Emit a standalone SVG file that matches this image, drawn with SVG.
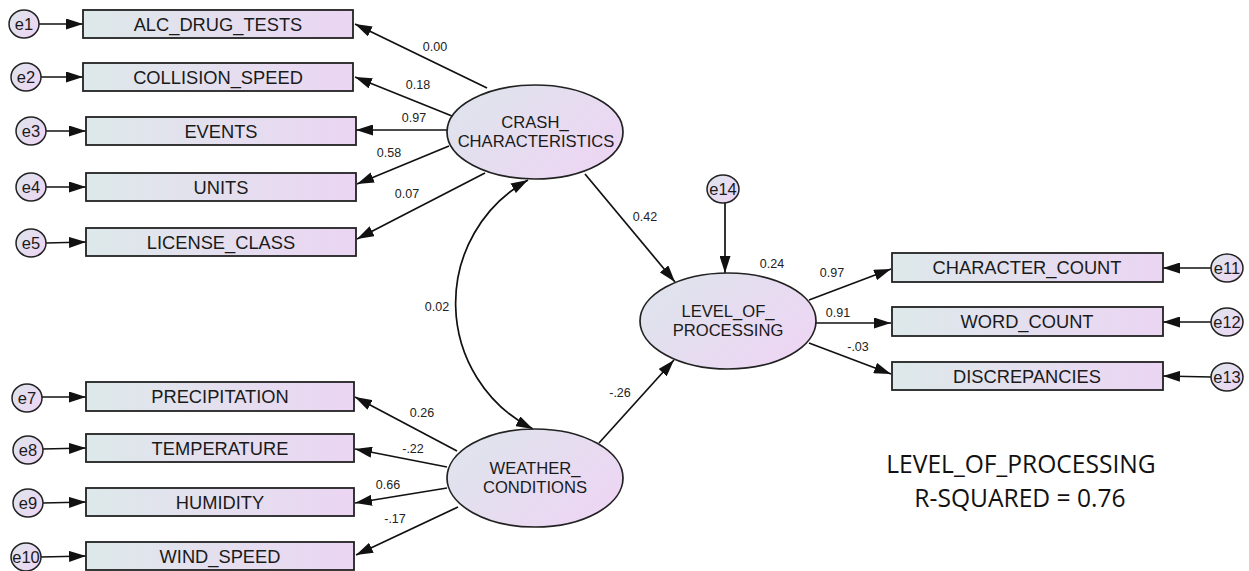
<svg xmlns="http://www.w3.org/2000/svg" width="1249" height="571" viewBox="0 0 1249 571">
<defs>
<linearGradient id="gBox" x1="0" y1="0" x2="1" y2="0">
<stop offset="0" stop-color="#dde9ea"/>
<stop offset="1" stop-color="#ebd5f3"/>
</linearGradient>
<linearGradient id="gEll" x1="0" y1="0.2" x2="1" y2="0.8">
<stop offset="0" stop-color="#dee4ec"/>
<stop offset="1" stop-color="#eed5f4"/>
</linearGradient>
<marker id="arr" viewBox="0 0 17 11" refX="17" refY="5.5" markerWidth="17" markerHeight="11" markerUnits="userSpaceOnUse" orient="auto-start-reverse">
<path d="M0,0 L17,5.5 L0,11 z" fill="#111"/>
</marker>
<style>
.box{fill:url(#gBox);stroke:#222;stroke-width:1.8}
.ell{fill:url(#gEll);stroke:#222;stroke-width:1.7}
.err{fill:url(#gEll);stroke:#222;stroke-width:1.5}
.lbl{font-family:"Liberation Sans",Arial,sans-serif;font-size:18.3px;fill:#1a1a1a;text-anchor:middle}
.elbl{font-family:"Liberation Sans",Arial,sans-serif;font-size:16.6px;fill:#1a1a1a;text-anchor:middle}
.etxt{font-family:"Liberation Sans",Arial,sans-serif;font-size:16.5px;fill:#1a1a1a;text-anchor:middle}
.coef{font-family:"Liberation Sans",Arial,sans-serif;font-size:12.5px;fill:#222;text-anchor:middle}
.big{font-family:"Open Sans","Noto Sans",sans-serif;font-size:24.6px;fill:#111;text-anchor:middle}
.con{fill:none;stroke:#111;stroke-width:1.7;marker-end:url(#arr)}
</style>
</defs>
<rect width="1249" height="571" fill="#ffffff"/>

<g id="connectors">
<line class="con" x1="39" y1="24" x2="83" y2="24"/>
<line class="con" x1="41" y1="77" x2="83" y2="77"/>
<line class="con" x1="46" y1="131" x2="86" y2="131"/>
<line class="con" x1="46" y1="187" x2="86" y2="187"/>
<line class="con" x1="46" y1="243" x2="86" y2="242"/>
<line class="con" x1="42" y1="397" x2="86" y2="397"/>
<line class="con" x1="43" y1="449" x2="86" y2="448"/>
<line class="con" x1="43" y1="503" x2="86" y2="502"/>
<line class="con" x1="41" y1="557" x2="86" y2="556"/>
<line class="con" x1="1211" y1="268" x2="1163" y2="268"/>
<line class="con" x1="1211" y1="322" x2="1163" y2="322"/>
<line class="con" x1="1211" y1="377" x2="1163" y2="376"/>
<line class="con" x1="725" y1="203" x2="725" y2="273"/>
<line class="con" x1="487" y1="88" x2="355" y2="24"/>
<line class="con" x1="452" y1="116" x2="355" y2="77"/>
<line class="con" x1="448" y1="130" x2="356" y2="130"/>
<line class="con" x1="449" y1="146" x2="357" y2="184"/>
<line class="con" x1="485" y1="173" x2="357" y2="239"/>
<line class="con" x1="457" y1="451" x2="355" y2="397"/>
<line class="con" x1="447" y1="467" x2="355" y2="449"/>
<line class="con" x1="447" y1="488" x2="355" y2="503"/>
<line class="con" x1="458" y1="507" x2="356" y2="555"/>
<line class="con" x1="585" y1="174" x2="675" y2="282"/>
<line class="con" x1="599" y1="443" x2="674" y2="360"/>
<line class="con" x1="809" y1="300" x2="891" y2="269"/>
<line class="con" x1="815" y1="323" x2="891" y2="323"/>
<line class="con" x1="809" y1="343" x2="891" y2="374"/>
<path class="con" style="marker-start:url(#arr)" d="M528 180 A141 141 0 0 0 533 429"/>
</g>

<g id="coefficients">
<text class="coef" x="435" y="51">0.00</text>
<text class="coef" x="418" y="89">0.18</text>
<text class="coef" x="414" y="122">0.97</text>
<text class="coef" x="389" y="157">0.58</text>
<text class="coef" x="407" y="198">0.07</text>
<text class="coef" x="422" y="417">0.26</text>
<text class="coef" x="413" y="453">-.22</text>
<text class="coef" x="388" y="489">0.66</text>
<text class="coef" x="395" y="523">-.17</text>
<text class="coef" x="437" y="311">0.02</text>
<text class="coef" x="620" y="397">-.26</text>
<text class="coef" x="645" y="221">0.42</text>
<text class="coef" x="772" y="268">0.24</text>
<text class="coef" x="832" y="277">0.97</text>
<text class="coef" x="838" y="317">0.91</text>
<text class="coef" x="858" y="351">-.03</text>
</g>

<g id="n-alc"><rect class="box" x="83" y="10" width="270" height="28"/><text class="lbl" x="218" y="30.5">ALC_DRUG_TESTS</text></g>
<g id="n-coll"><rect class="box" x="83" y="63" width="270" height="28"/><text class="lbl" x="218" y="83.5">COLLISION_SPEED</text></g>
<g id="n-events"><rect class="box" x="86" y="117" width="270" height="28"/><text class="lbl" x="221" y="137.5">EVENTS</text></g>
<g id="n-units"><rect class="box" x="86" y="173" width="270" height="28"/><text class="lbl" x="221" y="193.5">UNITS</text></g>
<g id="n-license"><rect class="box" x="86" y="228" width="270" height="28"/><text class="lbl" x="221" y="248.5">LICENSE_CLASS</text></g>
<g id="n-precip"><rect class="box" x="86" y="382" width="268" height="29"/><text class="lbl" x="220" y="403">PRECIPITATION</text></g>
<g id="n-temp"><rect class="box" x="86" y="434" width="268" height="28"/><text class="lbl" x="220" y="454.5">TEMPERATURE</text></g>
<g id="n-humid"><rect class="box" x="86" y="488" width="268" height="28"/><text class="lbl" x="220" y="508.5">HUMIDITY</text></g>
<g id="n-wind"><rect class="box" x="86" y="542" width="268" height="28"/><text class="lbl" x="220" y="562.5">WIND_SPEED</text></g>
<g id="n-char"><rect class="box" x="892" y="253" width="271" height="29"/><text class="lbl" x="1027" y="274">CHARACTER_COUNT</text></g>
<g id="n-word"><rect class="box" x="892" y="307" width="271" height="29"/><text class="lbl" x="1027" y="328">WORD_COUNT</text></g>
<g id="n-disc"><rect class="box" x="892" y="362" width="271" height="28"/><text class="lbl" x="1027" y="382.5">DISCREPANCIES</text></g>

<g id="n-crash"><ellipse class="ell" cx="535" cy="132" rx="88" ry="47"/><text class="elbl" x="535" y="128">CRASH_</text><text class="elbl" x="536" y="147">CHARACTERISTICS</text></g>
<g id="n-weather"><ellipse class="ell" cx="535" cy="478" rx="88" ry="49"/><text class="elbl" x="535" y="474">WEATHER_</text><text class="elbl" x="535" y="493">CONDITIONS</text></g>
<g id="n-level"><ellipse class="ell" cx="728" cy="321" rx="88" ry="48"/><text class="elbl" x="728" y="317">LEVEL_OF_</text><text class="elbl" x="728" y="336">PROCESSING</text></g>

<g id="e1"><ellipse class="err" cx="24" cy="24" rx="15" ry="14"/><text class="etxt" x="24" y="30">e1</text></g>
<g id="e2"><ellipse class="err" cx="26" cy="77" rx="15" ry="14"/><text class="etxt" x="26" y="83">e2</text></g>
<g id="e3"><ellipse class="err" cx="31" cy="131" rx="15" ry="14"/><text class="etxt" x="31" y="137">e3</text></g>
<g id="e4"><ellipse class="err" cx="31" cy="187" rx="15" ry="14"/><text class="etxt" x="31" y="193">e4</text></g>
<g id="e5"><ellipse class="err" cx="31" cy="243" rx="15" ry="14"/><text class="etxt" x="31" y="249">e5</text></g>
<g id="e7"><ellipse class="err" cx="27" cy="398" rx="15" ry="14"/><text class="etxt" x="27" y="404">e7</text></g>
<g id="e8"><ellipse class="err" cx="28" cy="450" rx="15" ry="14"/><text class="etxt" x="28" y="456">e8</text></g>
<g id="e9"><ellipse class="err" cx="28" cy="503" rx="15" ry="14"/><text class="etxt" x="28" y="509">e9</text></g>
<g id="e10"><ellipse class="err" cx="26" cy="557" rx="15" ry="14"/><text class="etxt" x="26" y="563">e10</text></g>
<g id="e11"><ellipse class="err" cx="1227" cy="268" rx="16" ry="14"/><text class="etxt" x="1227" y="274">e11</text></g>
<g id="e12"><ellipse class="err" cx="1227" cy="322" rx="16" ry="14"/><text class="etxt" x="1227" y="328">e12</text></g>
<g id="e13"><ellipse class="err" cx="1227" cy="377" rx="16" ry="14"/><text class="etxt" x="1227" y="383">e13</text></g>
<g id="e14"><ellipse class="err" cx="723" cy="189" rx="16" ry="14"/><text class="etxt" x="723" y="195">e14</text></g>

<g id="rsquared">
<text class="big" x="1021" y="473">LEVEL_OF_PROCESSING</text>
<text class="big" x="1020" y="507">R-SQUARED = 0.76</text>
</g>
</svg>
